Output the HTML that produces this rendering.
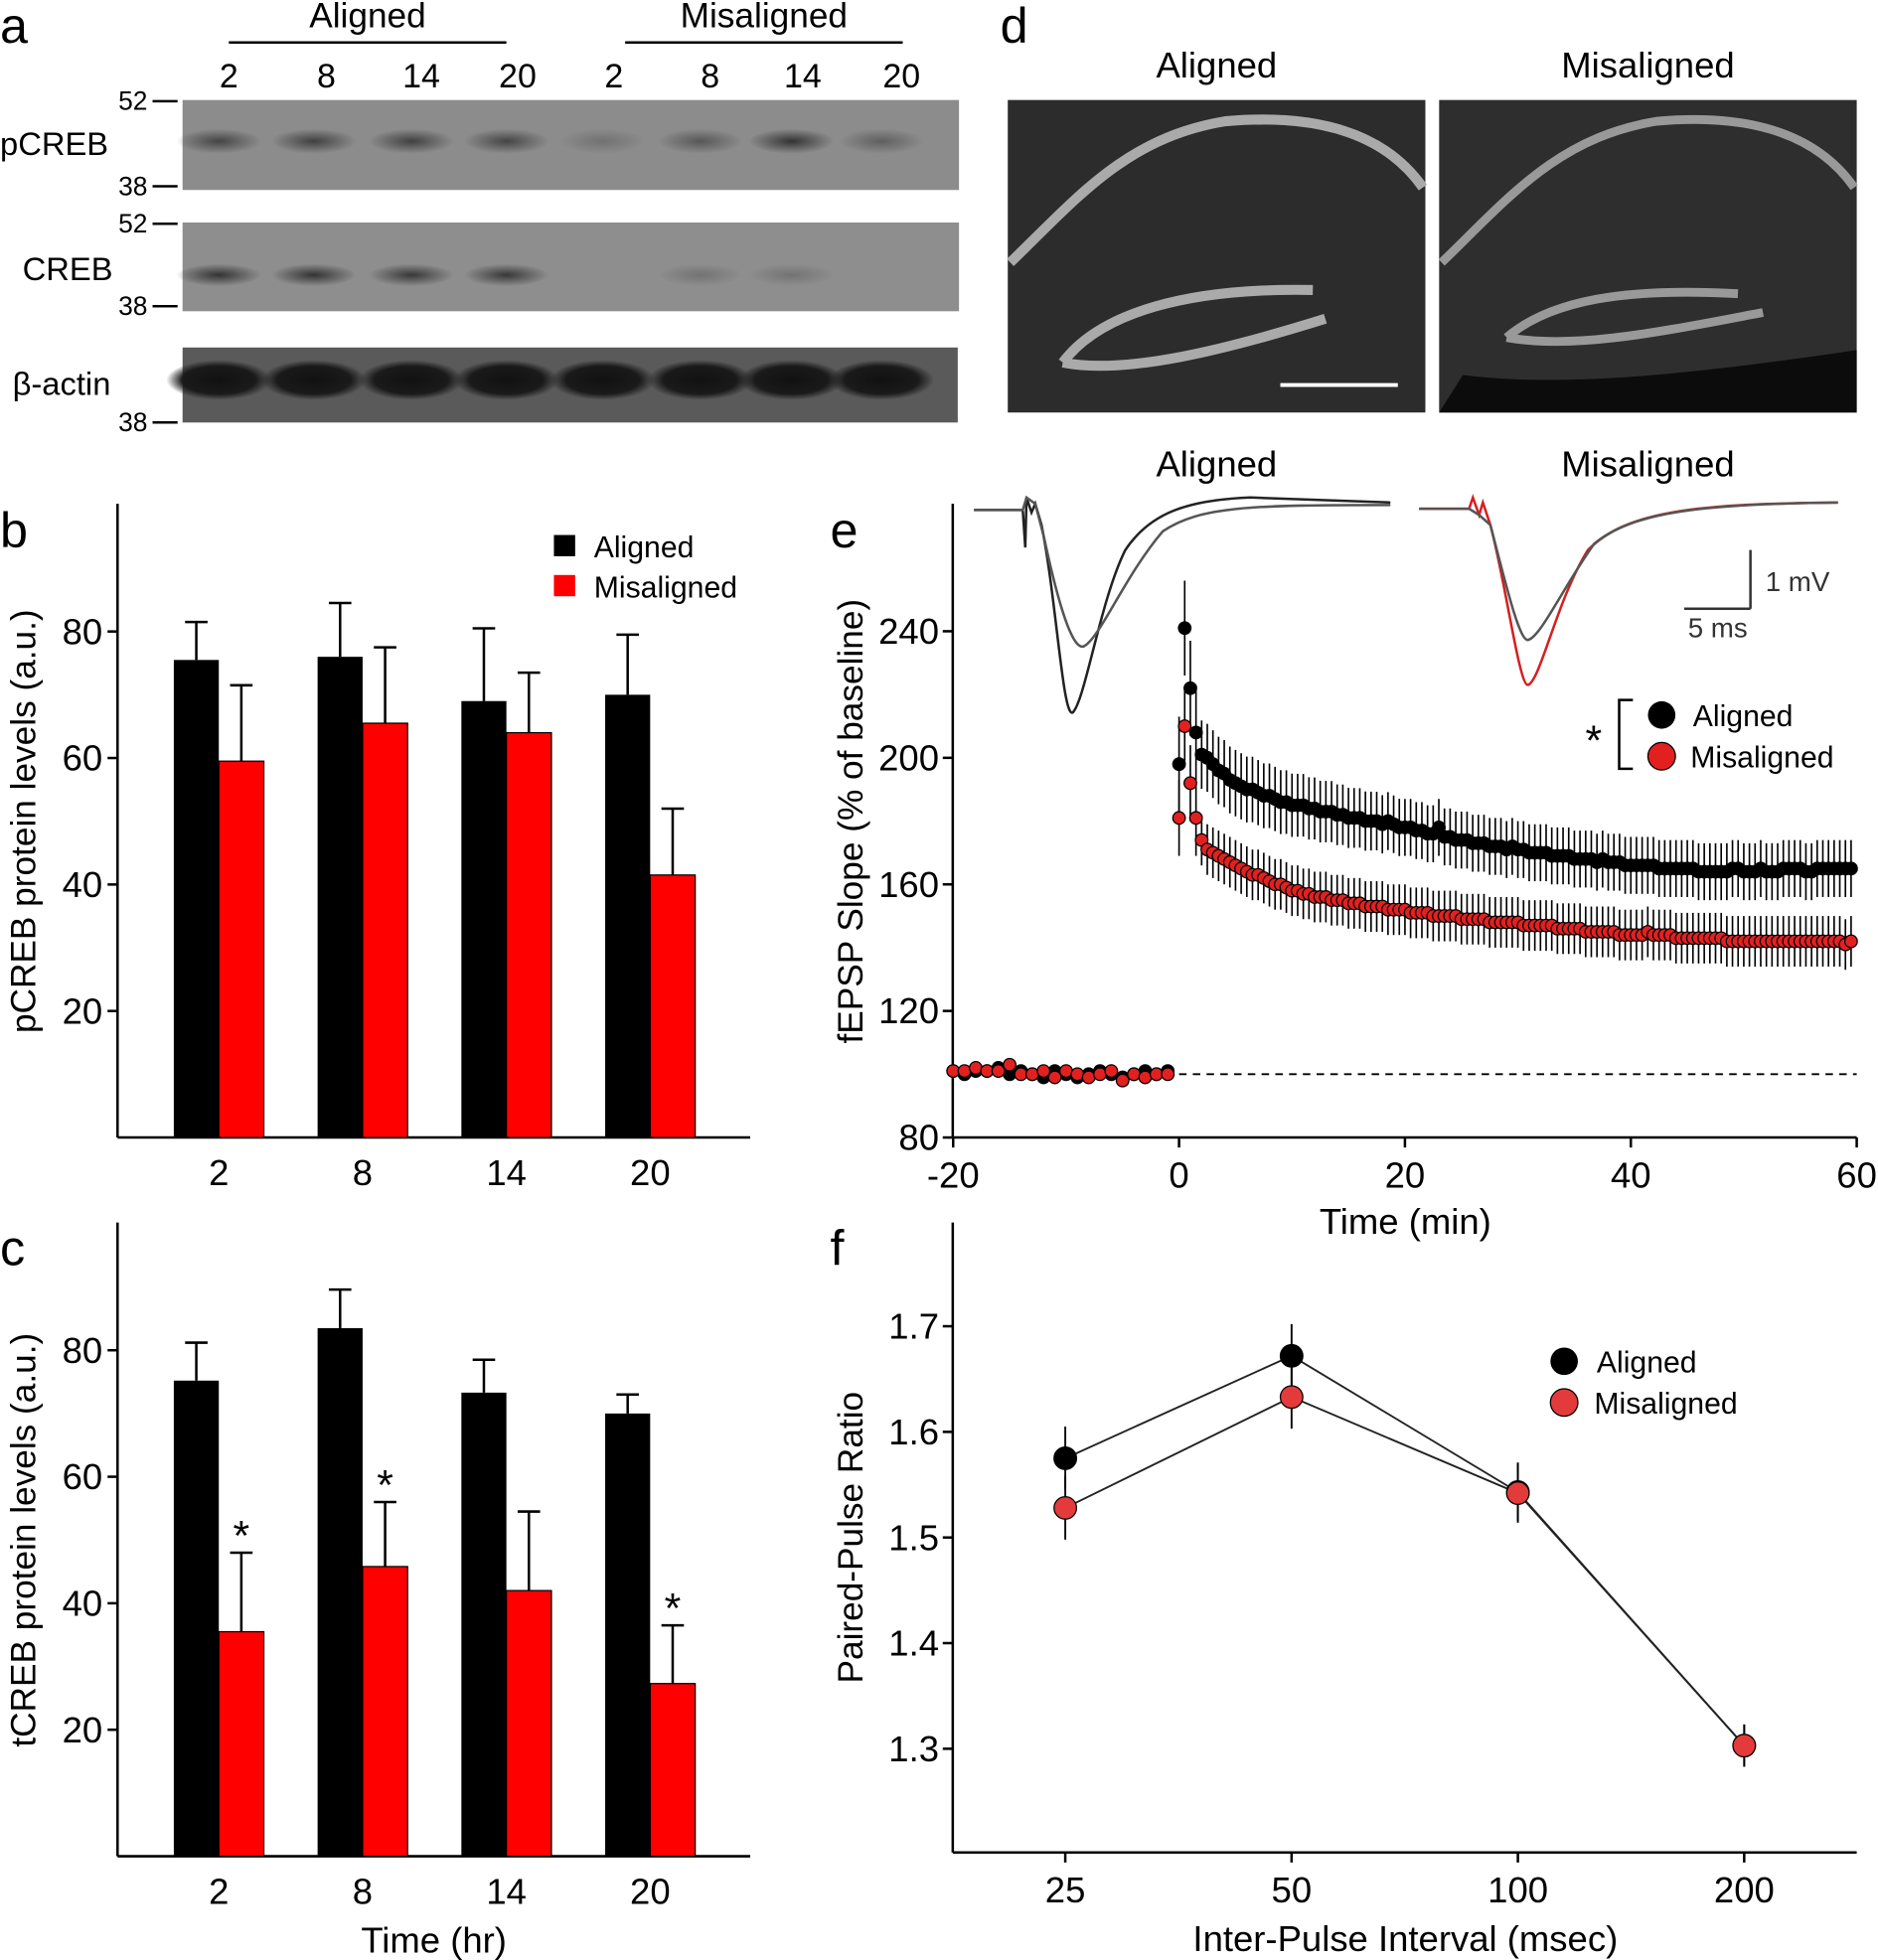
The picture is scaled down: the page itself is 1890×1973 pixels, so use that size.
<!DOCTYPE html>
<html><head><meta charset="utf-8"><style>
html,body{margin:0;padding:0;background:#fff;}
svg{display:block;font-family:"Liberation Sans",Arial,sans-serif;}
</style></head><body>
<svg id="fig" width="1890" height="1973" viewBox="0 0 1502 1568" xmlns="http://www.w3.org/2000/svg">
<defs>
<radialGradient id="band" cx="50%" cy="50%" r="50%"><stop offset="0" stop-color="#333"/><stop offset="1" stop-color="#333" stop-opacity="0"/></radialGradient>
<radialGradient id="bandA" cx="50%" cy="50%" r="50%"><stop offset="0" stop-color="#111"/><stop offset="0.7" stop-color="#1a1a1a"/><stop offset="1" stop-color="#1a1a1a" stop-opacity="0"/></radialGradient>
</defs>
<rect width="1502" height="1568" fill="#fff"/>
<!-- panel a -->
<g font-size="26">
<text x="0" y="34" font-size="40">a</text>
<text x="294" y="22" text-anchor="middle" font-size="28">Aligned</text>
<line x1="183" y1="34" x2="405" y2="34" stroke="#000" stroke-width="2"/>
<text x="611" y="22" text-anchor="middle" font-size="28">Misaligned</text>
<line x1="500" y1="34" x2="722" y2="34" stroke="#000" stroke-width="2"/>
<g text-anchor="middle" font-size="27">
<text x="183" y="70">2</text><text x="261" y="70">8</text><text x="337" y="70">14</text><text x="414" y="70">20</text>
<text x="491" y="70">2</text><text x="568" y="70">8</text><text x="642" y="70">14</text><text x="721" y="70">20</text></g>
<rect x="146" y="80" width="621" height="72" fill="#8c8c8c"/>
<rect x="146" y="178" width="621" height="71" fill="#8e8e8e"/>
<rect x="146" y="278" width="620" height="60" fill="#5a5a5a"/>
<g id="bands"></g>
<text x="0" y="124">pCREB</text>
<text x="18" y="224">CREB</text>
<text x="10" y="316">β-actin</text>
<g font-size="21" text-anchor="end">
<text x="118" y="88">52</text><line x1="122" y1="81" x2="142" y2="81" stroke="#000" stroke-width="2"/>
<text x="118" y="156">38</text><line x1="122" y1="149" x2="142" y2="149" stroke="#000" stroke-width="2"/>
<text x="118" y="186">52</text><line x1="122" y1="179" x2="142" y2="179" stroke="#000" stroke-width="2"/>
<text x="118" y="252">38</text><line x1="122" y1="245" x2="142" y2="245" stroke="#000" stroke-width="2"/>
<text x="118" y="345">38</text><line x1="122" y1="338" x2="142" y2="338" stroke="#000" stroke-width="2"/>
</g></g>
<!-- panel d -->
<g>
<text x="800" y="34" font-size="40">d</text>
<text x="973" y="62" text-anchor="middle" font-size="29">Aligned</text>
<text x="1318" y="62" text-anchor="middle" font-size="29">Misaligned</text>
<rect x="806" y="80" width="334" height="250" fill="#2c2c2c"/>
<rect x="1151" y="80" width="334" height="250" fill="#2e2e2e"/>
<path d="M808,210 C860,160 900,110 980,97 C1060,90 1110,110 1138,150" stroke="#aaa" stroke-width="8" fill="none"/>
<path d="M850,290 C880,250 950,230 1050,232 M850,290 C900,300 980,280 1060,255" stroke="#aaa" stroke-width="8" fill="none"/>
<line x1="1024" y1="308" x2="1118" y2="308" stroke="#fff" stroke-width="3"/>
<path d="M1153,210 C1205,160 1245,110 1325,97 C1405,90 1455,110 1483,150" stroke="#999" stroke-width="7" fill="none"/>
<path d="M1205,270 C1240,240 1300,230 1390,235 M1205,270 C1260,280 1330,265 1410,250" stroke="#999" stroke-width="7" fill="none"/>
<path d="M1151,330 L1170,300 C1250,310 1350,300 1485,280 L1485,330 Z" fill="#0c0c0c"/>
</g>
<!-- traces -->
<g fill="none" stroke-width="2">
<text x="973" y="381" text-anchor="middle" font-size="29" fill="#000" stroke="none">Aligned</text>
<text x="1318" y="381" text-anchor="middle" font-size="29" fill="#000" stroke="none">Misaligned</text>
<path d="M779,408 L818,408 L820,438 L821,398 L825,410 L828,403 L833,420 C845,480 850,575 858,570 C868,560 880,480 900,440 C920,410 950,400 1000,398 L1112,402" stroke="#222"/>
<path d="M779,408 L818,408 L821,398 L828,403 L835,430 C850,500 860,520 867,517 C880,510 900,460 930,425 C960,405 1000,404 1112,404" stroke="#555"/>
<path d="M1135,407 L1175,407 L1178,398 L1183,412 L1186,402 L1192,420 C1205,470 1215,548 1222,548 C1232,545 1245,480 1270,440 C1300,410 1350,403 1470,402" stroke="#d42020"/>
<path d="M1135,407 L1175,407 L1183,412 L1192,420 C1205,470 1215,512 1222,512 C1232,510 1250,470 1275,435 C1305,410 1360,403 1470,402" stroke="#555"/>
<line x1="1347" y1="487" x2="1400" y2="487" stroke="#333"/><line x1="1400" y1="487" x2="1400" y2="440" stroke="#333"/>
<text x="1412" y="473" font-size="22" fill="#333" stroke="none">1 mV</text>
<text x="1350" y="510" font-size="22" fill="#333" stroke="none">5 ms</text>
</g>
<g id="charts"></g>
<script>
// ---- panel b / c data ----
const barCats = ["2","8","14","20"];
const pAligned = [75.5, 76, 69, 70];
const pAlignedErr = [6, 8.5, 11.5, 9.5];
const pMis = [59.5, 65.5, 64, 41.5];
const pMisErr = [12, 12, 9.5, 10.5];
const tAligned = [75.2, 83.5, 73.3, 70];
const tAlignedErr = [6, 6.1, 5.2, 3];
const tMis = [35.5, 45.8, 42, 27.3];
const tMisErr = [12.5, 10.2, 12.5, 9.2];
const tSig = [true, true, false, true];
const barTicks = [20, 40, 60, 80];
// ---- panel e data ----
const baseTimes = [-20,-19,-18,-17,-16,-15,-14,-13,-12,-11,-10,-9,-8,-7,-6,-5,-4,-3,-2,-1];
const baseAligned = [101,100,101,101,102,100,101,100,99,101,100,99,100,101,100,99,100,101,100,101];
const baseMis = [101,101,102,101,101,103,100,100,101,99,101,100,99,100,101,98,100,99,100,100];
const postAligned = [198,241,222,208,201,200,198,196,195,193,
192,191,190,190,189,188,188,187,186,186,
185,185,185,184,184,183,183,183,182,182,
181,181,181,180,180,180,179,180,179,178,
178,178,177,177,176,176,178,175,175,174,
174,174,173,173,173,172,172,172,171,172,
171,171,170,170,170,170,169,169,169,169,
168,168,168,168,167,168,167,167,167,166,
166,166,166,166,166,165,165,165,165,165,
165,165,164,164,164,164,164,164,165,165,
164,164,164,165,164,164,164,165,165,165,
165,164,164,165,165,165,165,165,165,165];
const postMis = [181,210,192,181,174,171,170,169,168,167,
166,165,164,163,163,162,161,160,160,159,
158,158,157,157,156,156,156,155,155,155,
154,154,154,153,153,153,153,152,152,152,
152,151,151,151,151,150,150,150,150,150,
149,149,149,149,149,148,148,148,148,148,
148,147,147,147,147,147,147,146,146,146,
146,146,145,145,145,145,145,145,144,144,
144,144,144,145,144,144,144,144,143,143,
143,143,143,143,143,143,143,142,142,142,
142,142,142,142,142,142,142,142,142,142,
142,142,142,142,142,142,142,142,141,142];
const eXTicks = [-20, 0, 20, 40, 60];
const eYTicks = [80, 120, 160, 200, 240];
// ---- panel f data ----
const ppiCats = ["25","50","100","200"];
const ppAligned = [1.575, 1.672, 1.543, 1.303];
const ppMis = [1.528, 1.633, 1.542, 1.303];
const ppErr = [0.03, 0.03, 0.028, 0.02];
const ppTicks = [1.3, 1.4, 1.5, 1.6, 1.7];

const NS = "http://www.w3.org/2000/svg";
const root = document.getElementById("charts");
function mk(tag, attrs, parent, txt) {
  const el = document.createElementNS(NS, tag);
  for (const k in attrs) el.setAttribute(k, attrs[k]);
  if (txt !== undefined) el.textContent = txt;
  (parent || root).appendChild(el);
  return el;
}
// bands in blots
const bandsG = document.getElementById("bands");
const laneX = [175,251,329,405,482,560,633,705];
const pcrebI = [0.8,0.85,0.85,0.8,0.3,0.6,1,0.5];
const crebI = [1,1,0.95,0.95,0,0.3,0.3,0];
laneX.forEach((x,i)=>{
  let b = mk("ellipse",{cx:x,cy:113,rx:34,ry:10,fill:"url(#band)",opacity:pcrebI[i]},bandsG);
  
  
  b = mk("ellipse",{cx:x,cy:220,rx:34,ry:9,fill:"url(#band)",opacity:crebI[i]},bandsG);
  
  
  b = mk("ellipse",{cx:x,cy:304,rx:42,ry:16,fill:"url(#bandA)"},bandsG);
  
  
});

function barPanel(opt) {
  const g = mk("g", {});
  
  
  const y0 = opt.yBottom, pxPer = 5.06;
  const ys = v => y0 - v * pxPer;
  const catX = [175, 290, 405, 520];
  mk("text",{x:0,y:opt.labelY,"font-size":40},g,opt.label);
  mk("line",{x1:94,y1:opt.yTop,x2:94,y2:y0,stroke:"#000","stroke-width":2},g);
  mk("line",{x1:94,y1:y0,x2:600,y2:y0,stroke:"#000","stroke-width":2},g);
  barTicks.forEach(t=>{
    mk("line",{x1:94,y1:ys(t),x2:86,y2:ys(t),stroke:"#000","stroke-width":2},g);
    const tl = mk("text",{x:82,y:ys(t)+10,"text-anchor":"end","font-size":29},g,String(t));
    
    
  });
  barCats.forEach((c,i)=>{
    const x = catX[i];
    const xa = x-18, xm = x+18;
    const ta = ys(opt.a[i]+opt.ae[i]), tm = ys(opt.m[i]+opt.me[i]);
    mk("line",{x1:xa,y1:ys(opt.a[i]),x2:xa,y2:ta,stroke:"#000","stroke-width":2},g);
    mk("line",{x1:xa-9,y1:ta,x2:xa+9,y2:ta,stroke:"#000","stroke-width":2},g);
    const ba = mk("rect",{x:x-36,y:ys(opt.a[i]),width:36,height:opt.a[i]*pxPer,fill:"#000"},g);
    
    
    mk("line",{x1:xm,y1:ys(opt.m[i]),x2:xm,y2:tm,stroke:"#000","stroke-width":2},g);
    mk("line",{x1:xm-9,y1:tm,x2:xm+9,y2:tm,stroke:"#000","stroke-width":2},g);
    const bm = mk("rect",{x:x,y:ys(opt.m[i]),width:36,height:opt.m[i]*pxPer,fill:"#ff0000",stroke:"#000","stroke-width":1},g);
    
    
    if (opt.sig && opt.sig[i]) mk("text",{x:xm,y:tm-2,"text-anchor":"middle","font-size":34},g,"*");
    mk("text",{x:x,y:y0+38,"text-anchor":"middle","font-size":29},g,c);
  });
  const yt = mk("text",{transform:`translate(28,${opt.titleY}) rotate(-90)`,"text-anchor":"middle","font-size":28},g,opt.ytitle);
  
  
  return g;
}
barPanel({name:"panel-b-pcreb-chart",label:"b",labelY:438,yTop:403,yBottom:910,a:pAligned,ae:pAlignedErr,m:pMis,me:pMisErr,titleY:657,ytitle:"pCREB protein levels (a.u.)"});
const gc = barPanel({name:"panel-c-tcreb-chart",label:"c",labelY:1012,yTop:978,yBottom:1485,a:tAligned,ae:tAlignedErr,m:tMis,me:tMisErr,sig:tSig,titleY:1232,ytitle:"tCREB protein levels (a.u.)"});
mk("text",{x:347,y:1562,"text-anchor":"middle","font-size":29},gc,"Time (hr)");
// legend b
const lb = mk("g",{});


mk("rect",{x:443,y:428,width:17,height:17,fill:"#000"},lb);
mk("text",{x:475,y:446,"font-size":24},lb,"Aligned");
mk("rect",{x:443,y:460,width:17,height:17,fill:"#ff0000"},lb);
mk("text",{x:475,y:478,"font-size":24},lb,"Misaligned");

// panel e
(function(){
  const g = mk("g",{});
  
  
  const xs = t => 943 + t * (542/60);
  const ys = v => 910 - (v-80) * (405/160);
  mk("text",{x:664,y:438,"font-size":40},g,"e");
  mk("line",{x1:762,y1:403,x2:762,y2:910,stroke:"#000","stroke-width":2},g);
  mk("line",{x1:762,y1:910,x2:1485,y2:910,stroke:"#000","stroke-width":2},g);
  eYTicks.forEach(t=>{
    mk("line",{x1:762,y1:ys(t),x2:754,y2:ys(t),stroke:"#000","stroke-width":2},g);
    mk("text",{x:751,y:ys(t)+10,"text-anchor":"end","font-size":29},g,String(t));
  });
  eXTicks.forEach(t=>{
    mk("line",{x1:xs(t),y1:910,x2:xs(t),y2:918,stroke:"#000","stroke-width":2},g);
    mk("text",{x:xs(t),y:950,"text-anchor":"middle","font-size":29},g,String(t));
  });
  mk("text",{x:1124,y:987,"text-anchor":"middle","font-size":29},g,"Time (min)");
  mk("text",{transform:"translate(690,657) rotate(-90)","text-anchor":"middle","font-size":28},g,"fEPSP Slope (% of baseline)");
  mk("line",{x1:943,y1:ys(100),x2:1485,y2:ys(100),stroke:"#000","stroke-width":1.5,"stroke-dasharray":"6,5"},g);
  const errA = i => i<4 ? 15 : 11 - Math.min(i,40)*0.05;
  function series(times, vals, color, err, nm){
    times.forEach((t,i)=>{
      const e = err(i);
      mk("line",{x1:xs(t),y1:ys(vals[i]-e),x2:xs(t),y2:ys(vals[i]+e),stroke:"#000","stroke-width":1.3},g);
    });
    times.forEach((t,i)=>{
      const c = mk("circle",{cx:xs(t),cy:ys(vals[i]),r:5,fill:color,stroke:"#000","stroke-width":1},g);
      
      
    });
  }
  const postTimes = postAligned.map((_,i)=>i*0.5);
  series(postTimes, postAligned, "#000", errA, "point-aligned");
  series(postTimes, postMis, "#e32020", i=> i<4?12:8, "point-misaligned");
  series(baseTimes, baseAligned, "#000", ()=>1.5, "baseline-aligned");
  series(baseTimes, baseMis, "#e32020", ()=>1.5, "baseline-misaligned");
  const lg = mk("g",{},g);
  
  
  mk("text",{x:1268,y:604,"font-size":34},lg,"*");
  mk("path",{d:"M1306,560 L1295,560 L1295,615 L1306,615",stroke:"#000",fill:"none","stroke-width":2},lg);
  mk("circle",{cx:1329,cy:572,r:11,fill:"#000"},lg);
  mk("text",{x:1354,y:581,"font-size":24},lg,"Aligned");
  mk("circle",{cx:1329,cy:605,r:11,fill:"#e32020",stroke:"#000"},lg);
  mk("text",{x:1352,y:614,"font-size":24},lg,"Misaligned");
})();

// panel f
(function(){
  const g = mk("g",{});
  
  
  const catX = [852,1033,1214,1395];
  const ys = v => 1399 - (v-1.3) * 845;
  mk("text",{x:664,y:1012,"font-size":40},g,"f");
  mk("line",{x1:762,y1:978,x2:762,y2:1482,stroke:"#000","stroke-width":2},g);
  mk("line",{x1:762,y1:1482,x2:1485,y2:1482,stroke:"#000","stroke-width":2},g);
  ppTicks.forEach(t=>{
    mk("line",{x1:762,y1:ys(t),x2:754,y2:ys(t),stroke:"#000","stroke-width":2},g);
    mk("text",{x:751,y:ys(t)+10,"text-anchor":"end","font-size":29},g,t.toFixed(1));
  });
  ppiCats.forEach((c,i)=>{
    mk("line",{x1:catX[i],y1:1482,x2:catX[i],y2:1490,stroke:"#000","stroke-width":2},g);
    mk("text",{x:catX[i],y:1522,"text-anchor":"middle","font-size":29},g,c);
  });
  mk("text",{x:1124,y:1561,"text-anchor":"middle","font-size":29},g,"Inter-Pulse Interval (msec)");
  mk("text",{transform:"translate(690,1230) rotate(-90)","text-anchor":"middle","font-size":28},g,"Paired-Pulse Ratio");
  function series(vals,color,nm){
    mk("polyline",{points:vals.map((v,i)=>catX[i]+","+ys(v)).join(" "),fill:"none",stroke:"#222","stroke-width":1.5},g);
    vals.forEach((v,i)=>{
      mk("line",{x1:catX[i],y1:ys(v-ppErr[i]),x2:catX[i],y2:ys(v+ppErr[i]),stroke:"#000","stroke-width":1.5},g);
    });
    vals.forEach((v,i)=>{
      const c = mk("circle",{cx:catX[i],cy:ys(v),r:9,fill:color,stroke:"#000","stroke-width":1},g);
      
      
    });
  }
  series(ppAligned,"#000","point-aligned");
  series(ppMis,"#e33b3b","point-misaligned");
  const lg = mk("g",{},g);
  
  
  mk("circle",{cx:1251,cy:1089,r:11,fill:"#000"},lg);
  mk("text",{x:1277,y:1098,"font-size":24},lg,"Aligned");
  mk("circle",{cx:1251,cy:1122,r:11,fill:"#e33b3b",stroke:"#000"},lg);
  mk("text",{x:1275,y:1131,"font-size":24},lg,"Misaligned");
})();
</script>
</svg>
</body></html>
